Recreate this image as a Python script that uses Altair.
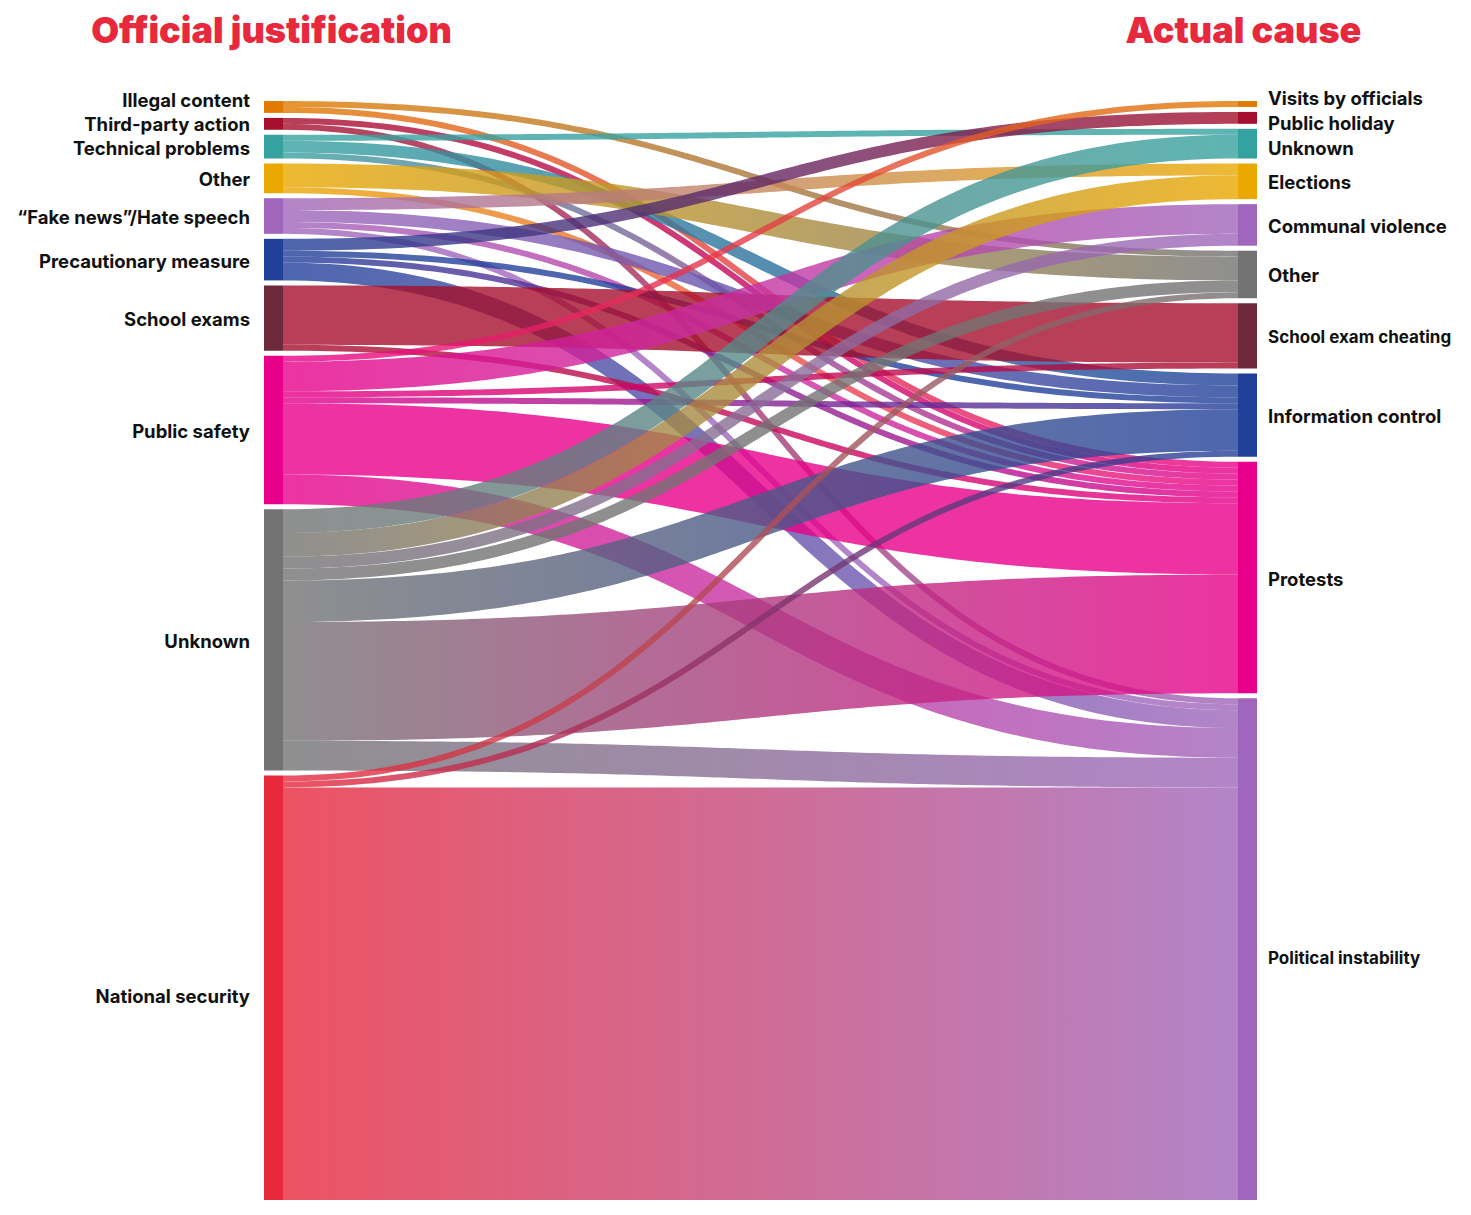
import altair as alt
import pandas as pd
import numpy as np

# ---------------- data ----------------
sources = ["Illegal content", "Third-party action", "Technical problems", "Other",
           "\u201cFake news\u201d/Hate speech", "Precautionary measure", "School exams",
           "Public safety", "Unknown", "National security"]
source_colors = ["#e07b00", "#a50f2d", "#36a2a0", "#eaa800", "#a066bb",
                 "#21409a", "#6e2a3c", "#e8008a", "#737373", "#e8283c"]
source_link_colors = ["#e07b00", "#a50f2d", "#36a2a0", "#eaa800", "#a066bb",
                      "#21409a", "#a50f2d", "#e8008a", "#737373", "#e8283c"]

targets = ["Visits by officials", "Public holiday", "Unknown", "Elections",
           "Communal violence", "Other", "School exam cheating",
           "Information control", "Protests", "Political instability"]
target_colors = ["#e07b00", "#a50f2d", "#36a2a0", "#eaa800", "#a066bb",
                 "#737373", "#6e2a3c", "#21409a", "#e8008a", "#a066bb"]
target_link_colors = ["#e07b00", "#a50f2d", "#36a2a0", "#eaa800", "#a066bb",
                      "#737373", "#a50f2d", "#21409a", "#e8008a", "#a066bb"]

link_source = [0, 0, 1, 1, 2, 2, 2, 3, 3, 4, 4, 4, 4, 5, 5, 5, 5, 6, 6,
               7, 7, 7, 7, 7, 7, 8, 8, 8, 8, 8, 8, 8, 9, 9, 9]
link_target = [5, 8, 8, 9, 2, 7, 8, 5, 8, 3, 7, 8, 9, 1, 7, 8, 9, 6, 8,
               0, 4, 6, 7, 8, 9, 2, 3, 4, 5, 7, 8, 9, 5, 7, 9]
link_value = [1, 1, 1, 1, 1, 2, 1, 4, 1, 2, 2, 1, 1, 2, 1, 1, 3, 10, 1,
              1, 5, 1, 1, 12, 5, 4, 4, 2, 2, 7, 20, 5, 1, 1, 72]

titles = ["Official justification", "Actual cause"]

# ---------------- layout (sankey computed from the values) ----------------
W, H = 1455, 1192
TOP, BOTTOM = 93, 1207
GAP = 5
NODE_W = 19
XL0, XR0 = 256, 1230

src_tot = [0] * len(sources)
tgt_tot = [0] * len(targets)
for s, t, v in zip(link_source, link_target, link_value):
    src_tot[s] += v
    tgt_tot[t] += v
total = sum(link_value)
k = (BOTTOM - TOP - GAP * (len(sources) - 1)) / total


def stack(tots):
    y0s, y = [], TOP
    for v in tots:
        y0s.append(y)
        y += v * k + GAP
    return y0s


src_y0 = stack(src_tot)
tgt_y0 = stack(tgt_tot)

nodes = []
for i, n in enumerate(sources):
    nodes.append(dict(name=n, x=XL0, x2=XL0 + NODE_W, y=src_y0[i],
                      y2=src_y0[i] + src_tot[i] * k, c=source_colors[i]))
for i, n in enumerate(targets):
    nodes.append(dict(name=n, x=XR0, x2=XR0 + NODE_W, y=tgt_y0[i],
                      y2=tgt_y0[i] + tgt_tot[i] * k, c=target_colors[i]))
node_df = pd.DataFrame(nodes)

# link offsets: at source sorted by target, at target sorted by source
order = sorted(range(len(link_value)), key=lambda i: (link_source[i], link_target[i]))
s_off = list(src_y0)
ys_c = {}
for i in order:
    w = link_value[i] * k
    ys_c[i] = s_off[link_source[i]] + w / 2
    s_off[link_source[i]] += w
t_off = list(tgt_y0)
yt_c = {}
for i in sorted(range(len(link_value)), key=lambda i: (link_target[i], link_source[i])):
    w = link_value[i] * k
    yt_c[i] = t_off[link_target[i]] + w / 2
    t_off[link_target[i]] += w

xs, xt = XL0 + NODE_W, XR0
xm = (xs + xt) / 2
ss = np.linspace(0, 1, 120)
rows = []
for i in order:
    y0, y1 = ys_c[i], yt_c[i]
    w = link_value[i] * k
    for j, s in enumerate(ss):
        a, b, c, d = (1 - s) ** 3, 3 * (1 - s) ** 2 * s, 3 * (1 - s) * s ** 2, s ** 3
        x = a * xs + (b + c) * xm + d * xt
        y = (a + b) * y0 + (c + d) * y1
        dxds = 3 * (xm - xs) * ((1 - s) ** 2 + s ** 2)
        dyds = (y1 - y0) * 6 * s * (1 - s)
        half = w / 2 * float(np.sqrt(1 + (dyds / dxds) ** 2))
        rows.append(dict(lid=int(i), x=float(x), ya=float(y - half), yb=float(y + half)))
link_df = pd.DataFrame(rows)


def relax(ys, sep, iters=300):
    ys = list(ys)
    for _ in range(iters):
        for j in range(len(ys) - 1):
            dd = ys[j + 1] - ys[j]
            if dd < sep:
                m = (sep - dd) / 2
                ys[j] -= m
                ys[j + 1] += m
    return ys


def push_up(ys, sep):
    ys = list(ys)
    for j in range(len(ys) - 2, -1, -1):
        if ys[j + 1] - ys[j] < sep:
            ys[j] = ys[j + 1] - sep
    return ys


lab_l = push_up([src_y0[i] + src_tot[i] * k / 2 for i in range(len(sources))], 24)
lab_r = relax([tgt_y0[i] + tgt_tot[i] * k / 2 for i in range(len(targets))], 25)
right_sizes = [17 if len(n) > 19 else 18.5 for n in targets]
left_lab = pd.DataFrame(dict(name=sources, x=XL0 - 14, y=lab_l))
right_lab = pd.DataFrame(dict(name=targets, x=XR0 + NODE_W + 11, y=lab_r, fs=right_sizes))
title_df = pd.DataFrame(dict(name=titles, x=[XL0 + NODE_W / 2 - 2, XR0 + NODE_W / 2 - 4], y=[35, 35]))

# ---------------- chart ----------------
xsc = alt.Scale(domain=[0, W], nice=False, zero=False)
ysc = alt.Scale(domain=[0, H], nice=False, zero=False, reverse=True)

layers = []
for i in order:
    c1 = source_link_colors[link_source[i]]
    c2 = target_link_colors[link_target[i]]
    grad = alt.Gradient(gradient="linear",
                        stops=[alt.GradientStop(color=c1, offset=0),
                               alt.GradientStop(color=c2, offset=1)],
                        x1=0, x2=1, y1=0, y2=0)
    layers.append(
        alt.Chart(link_df).transform_filter(alt.datum.lid == i)
        .mark_area(color=grad, opacity=0.8)
        .encode(x=alt.X("x:Q", scale=xsc, axis=None),
                y=alt.Y("ya:Q", scale=ysc, axis=None),
                y2=alt.Y2("yb:Q"))
    )

node_layer = alt.Chart(node_df).mark_rect().encode(
    x=alt.X("x:Q", scale=xsc, axis=None), x2="x2:Q",
    y=alt.Y("y:Q", scale=ysc, axis=None), y2="y2:Q",
    color=alt.Color("c:N", scale=None))

lbl_style = dict(font="Inter", fontWeight=700, color="#111111", baseline="middle", dy=2)
left_layer = alt.Chart(left_lab).mark_text(align="right", fontSize=18.5, **lbl_style).encode(
    x=alt.X("x:Q", scale=xsc, axis=None), y=alt.Y("y:Q", scale=ysc, axis=None), text="name:N")
right_layer = alt.Chart(right_lab).mark_text(align="left", **lbl_style).encode(
    x=alt.X("x:Q", scale=xsc, axis=None), y=alt.Y("y:Q", scale=ysc, axis=None), text="name:N",
    size=alt.Size("fs:Q", scale=None, legend=None))
title_layer = alt.Chart(title_df).mark_text(
    align="center", baseline="alphabetic", font="Inter", fontSize=36, fontWeight=900,
    color="#e8283c").encode(
    x=alt.X("x:Q", scale=xsc, axis=None), y=alt.Y("y:Q", scale=ysc, axis=None), text="name:N")

chart = alt.layer(*layers, node_layer, left_layer, right_layer, title_layer).properties(
    width=W, height=H, padding=0, background="white",
    autosize=alt.AutoSizeParams(type="none")
).configure_view(stroke=None)

chart.save("out.html", embed_options={"renderer": "svg", "actions": False})
